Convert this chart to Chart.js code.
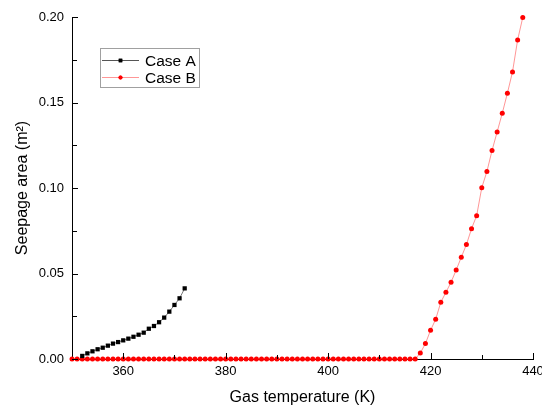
<!DOCTYPE html>
<html>
<head>
<meta charset="utf-8">
<title>Seepage area vs gas temperature</title>
<script src="https://cdn.jsdelivr.net/npm/chart.js@4.4.1/dist/chart.umd.min.js"></script>
<style>
  html, body { margin: 0; padding: 0; background: #fff; }
</style>
</head>
<body>
<canvas id="chartSeepage" width="542" height="409"></canvas>
<script>
'use strict';

// ---- Datos ----
const CASE_A_T = [352, 353, 354, 355, 356, 357, 358, 359, 360, 361, 362,
                  363, 364, 365, 366, 367, 368, 369, 370, 371, 372];
const CASE_A_AREA = [0.0018, 0.0033, 0.0045, 0.0057, 0.0066, 0.0078, 0.0090,
                     0.0099, 0.0109, 0.0119, 0.0130, 0.0142, 0.0154, 0.0177,
                     0.0193, 0.0215, 0.0242, 0.0277, 0.0316, 0.0355, 0.0413];

const CASE_B_T = [350, 351, 352, 353, 354, 355, 356, 357, 358, 359,
                  360, 361, 362, 363, 364, 365, 366, 367, 368, 369,
                  370, 371, 372, 373, 374, 375, 376, 377, 378, 379,
                  380, 381, 382, 383, 384, 385, 386, 387, 388, 389,
                  390, 391, 392, 393, 394, 395, 396, 397, 398, 399,
                  400, 401, 402, 403, 404, 405, 406, 407, 408, 409,
                  410, 411, 412, 413, 414, 415, 416, 417, 418, 419,
                  420, 421, 422, 423, 424, 425, 426, 427, 428, 429,
                  430, 431, 432, 433, 434, 435, 436, 437, 438];
const CASE_B_AREA = [0, 0, 0, 0, 0, 0, 0, 0, 0, 0,
                     0, 0, 0, 0, 0, 0, 0, 0, 0, 0,
                     0, 0, 0, 0, 0, 0, 0, 0, 0, 0,
                     0, 0, 0, 0, 0, 0, 0, 0, 0, 0,
                     0, 0, 0, 0, 0, 0, 0, 0, 0, 0,
                     0, 0, 0, 0, 0, 0, 0, 0, 0, 0,
                     0, 0, 0, 0, 0, 0, 0, 0, 0.0035, 0.0090,
                     0.0168, 0.0232, 0.0332, 0.0390, 0.0449, 0.0520, 0.0595, 0.0669, 0.0762, 0.0838,
                     0.1002, 0.1096, 0.1219, 0.1328, 0.1437, 0.1554, 0.1679, 0.1866, 0.1997];

const X_TICKS = [360, 380, 400, 420, 440];
const X_MINOR = [370, 390, 410, 430];
const Y_TICKS = [0, 0.05, 0.10, 0.15, 0.20];
const Y_MINOR = [0.025, 0.075, 0.125, 0.175];

// Configuración global
Chart.defaults.font.family = "'Liberation Sans', Arial, sans-serif";
Chart.defaults.color = '#000';

const toPoints = (xs, ys) => xs.map((t, i) => ({ x: t, y: ys[i] }));

// Ticks hacia adentro (mayores y menores), estilo Origin
const innerTicks = {
  id: 'innerTicks',
  afterDraw(chart) {
    const { ctx, chartArea: a, scales: { x, y } } = chart;
    ctx.save();
    ctx.strokeStyle = '#000';
    ctx.lineWidth = 1;
    ctx.beginPath();
    const xt = (v, len) => {
      const px = Math.round(x.getPixelForValue(v)) + 0.5;
      ctx.moveTo(px, a.bottom); ctx.lineTo(px, a.bottom - len);
    };
    const yt = (v, len) => {
      const py = Math.round(y.getPixelForValue(v)) + 0.5;
      ctx.moveTo(a.left, py); ctx.lineTo(a.left + len, py);
    };
    X_TICKS.forEach(v => xt(v, 6));
    X_MINOR.forEach(v => xt(v, 4));
    Y_TICKS.forEach(v => yt(v, 6));
    Y_MINOR.forEach(v => yt(v, 5));
    ctx.stroke();
    ctx.restore();
  }
};

// Leyenda flotante dentro del área del gráfico
const boxLegend = {
  id: 'boxLegend',
  afterDraw(chart) {
    const { ctx } = chart;
    ctx.save();
    ctx.strokeStyle = '#a0a0a0';
    ctx.lineWidth = 1;
    ctx.strokeRect(100.5, 48.5, 99, 39);
    chart.data.datasets.forEach((ds, i) => {
      const yy = 60.5 + i * 17;
      ctx.strokeStyle = ds.borderColor;
      ctx.lineWidth = 1;
      ctx.beginPath();
      ctx.moveTo(102, yy); ctx.lineTo(139, yy);
      ctx.stroke();
      ctx.fillStyle = ds.pointBackgroundColor;
      Chart.helpers.drawPoint(ctx, { pointStyle: ds.pointStyle, radius: ds.pointRadius - 0.5, borderWidth: 0 }, 120.5, yy);
      ctx.fill();
      ctx.fillStyle = '#000';
      ctx.font = "15.5px 'Liberation Sans', Arial, sans-serif";
      ctx.textBaseline = 'middle';
      ctx.fillText(ds.label, 145, yy + 1);
    });
    ctx.restore();
  }
};

new Chart(document.getElementById('chartSeepage').getContext('2d'), {
  type: 'line',
  data: {
    datasets: [{
      label: 'Case A',
      data: toPoints(CASE_A_T, CASE_A_AREA),
      borderColor: '#555',
      borderWidth: 0.8,
      pointStyle: 'rect',
      pointRadius: 3,
      pointBorderWidth: 0,
      pointBackgroundColor: '#000',
      clip: false
    }, {
      label: 'Case B',
      data: toPoints(CASE_B_T, CASE_B_AREA),
      borderColor: 'rgba(255,80,80,0.6)',
      borderWidth: 1,
      pointStyle: 'circle',
      pointRadius: 2.5,
      pointBorderWidth: 0,
      pointBackgroundColor: '#ff0000',
      clip: false
    }]
  },
  options: {
    responsive: false,
    animation: false,
    devicePixelRatio: 1,
    layout: { padding: { top: 17, right: 9, left: 0, bottom: 0 } },
    plugins: { legend: { display: false }, tooltip: { enabled: false } },
    scales: {
      x: {
        type: 'linear',
        min: 350, max: 440,
        grid: { display: false, drawTicks: false },
        border: { display: true, color: '#000', width: 1 },
        afterBuildTicks: s => { s.ticks = X_TICKS.map(v => ({ value: v })); },
        afterFit: s => { s.height = 50; s.paddingLeft = 0; s.paddingRight = 0; },
        ticks: { font: { size: 13 }, padding: 5, maxRotation: 0, callback: v => String(v) },
        title: { display: true, text: 'Gas temperature (K)', font: { size: 16 }, padding: { top: 0, bottom: 2 } }
      },
      y: {
        min: 0, max: 0.2,
        grid: { display: false, drawTicks: false },
        border: { display: true, color: '#000', width: 1 },
        afterBuildTicks: s => { s.ticks = Y_TICKS.map(v => ({ value: v })); },
        afterFit: s => { s.width = 72; s.paddingTop = 0; s.paddingBottom = 0; },
        ticks: { font: { size: 13 }, padding: 8, callback: v => Number(v).toFixed(2) },
        title: { display: true, text: 'Seepage area (m\u00B2)', font: { size: 16 }, padding: { top: 13, bottom: 0 } }
      }
    }
  },
  plugins: [innerTicks, boxLegend]
});
</script>
</body>
</html>
